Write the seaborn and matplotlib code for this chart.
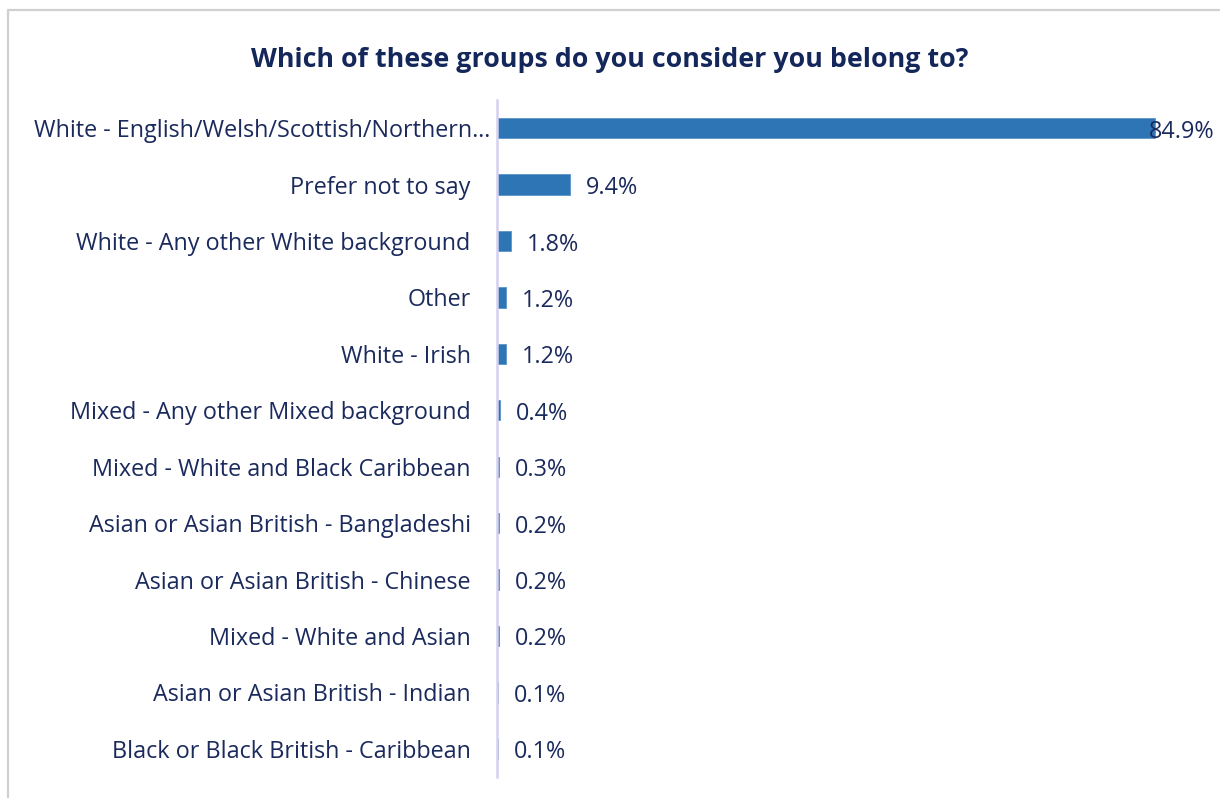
import matplotlib
matplotlib.use("Agg")
import matplotlib.pyplot as plt
import matplotlib.transforms as mtransforms
import seaborn as sns
import pandas as pd
from matplotlib.lines import Line2D

categories = [
    "White - English/Welsh/Scottish/Northern…",
    "Prefer not to say",
    "White - Any other White background",
    "Other",
    "White - Irish",
    "Mixed - Any other Mixed background",
    "Mixed - White and Black Caribbean",
    "Asian or Asian British - Bangladeshi",
    "Asian or Asian British - Chinese",
    "Mixed - White and Asian",
    "Asian or Asian British - Indian",
    "Black or Black British - Caribbean",
]
values = [84.9, 9.4, 1.8, 1.2, 1.2, 0.4, 0.3, 0.2, 0.2, 0.2, 0.1, 0.1]
title = "Which of these groups do you consider you belong to?"

df = pd.DataFrame({"group": categories, "pct": values})

sns.set_theme(style="white")
plt.rcParams["font.family"] = ["Open Sans", "DejaVu Sans"]

W, H = 1220, 798
fig = plt.figure(figsize=(W / 100, H / 100), dpi=100)
navy = "#1B2A5C"
bar_blue = "#2E75B6"
fs = 16.8

ax = fig.add_axes([497 / W, 1 - 777 / H, 697.5 / W, 677 / H])
sns.barplot(data=df, x="pct", y="group", orient="h", color=bar_blue,
            width=0.36, saturation=1, edgecolor="#5B93C8", linewidth=0.6, ax=ax)

ax.set_xlim(0, 90)
ax.set_ylim(11.5, -0.5)
ax.set_xlabel("")
ax.set_ylabel("")
ax.set_xticks([])
for s in ["top", "right", "bottom"]:
    ax.spines[s].set_visible(False)
ax.spines["left"].set_color("#D4D0EE")
ax.spines["left"].set_linewidth(1.8)
ax.tick_params(axis="y", length=0, pad=19, labelsize=fs, labelcolor=navy)

# the truncated first label sits a little closer to the axis
first = ax.get_yticklabels()[0]
first.set_transform(first.get_transform() +
                    mtransforms.ScaledTranslation(14 / 72, 0, fig.dpi_scale_trans))

# value labels just past each bar, kept inside the figure
fig.canvas.draw()
renderer = fig.canvas.get_renderer()
off, dy = 11.5, -2.5
for i, v in enumerate(values):
    t = ax.annotate(f"{v:.1f}%", xy=(v, i), xytext=(off, dy), textcoords="offset points",
                    va="center", ha="left", fontsize=fs, color=navy)
    bb = t.get_window_extent(renderer)
    limit = W - 5
    if bb.x1 > limit:
        shift_pts = (bb.x1 - limit) * 72 / fig.dpi
        t.set_position((off - shift_pts, dy))

fig.text(0.5, 1 - 60 / H, title, ha="center", va="center", fontsize=19.3,
         fontweight="bold", color="#14275A")

# outer chart frame (top and left edges visible)
fig.add_artist(Line2D([8 / W, 8 / W], [0, 1 - 10 / H], transform=fig.transFigure,
                      color="#D0D0D0", linewidth=1.6))
fig.add_artist(Line2D([8 / W, 1], [1 - 10 / H, 1 - 10 / H], transform=fig.transFigure,
                      color="#D0D0D0", linewidth=1.6))

fig.savefig("out.png", dpi=100, facecolor="white")
